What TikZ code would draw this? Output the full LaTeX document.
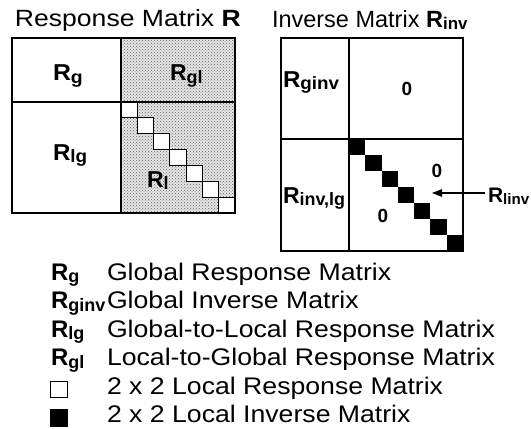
\documentclass[tikz,border=0pt]{standalone}
\usepackage{fontspec}
\setmainfont{Liberation Sans}
\usepackage{graphicx}
\usetikzlibrary{arrows.meta,patterns}
\newcommand\Rx[2][0.78]{\textbf{R}\raisebox{-0.12em}{\scalebox{#1}{\textbf{#2}}}}
\newcommand\SX[2]{\scalebox{#1}[1]{#2}}
\begin{document}
\begin{tikzpicture}[x=1pt,y=-1pt,
  lbl/.style={anchor=base west, inner sep=0pt, outer sep=0pt},
  big/.style={font=\fontsize{23}{27}\selectfont},
  leg/.style={font=\fontsize{24}{28}\selectfont},
  ttl/.style={font=\fontsize{23.5}{28}\selectfont},
  zero/.style={anchor=base, inner sep=0pt, font=\fontsize{19}{22}\selectfont\bfseries},
  frame/.style={line width=1.4pt},
  cell/.style={line width=1pt},
  shade/.style={fill=black!10},
  dots/.style={pattern=crosshatch dots, pattern color=black!60}]
\useasboundingbox (0,0) rectangle (531,429);
% ---- titles
\node[lbl,ttl] (t1) at (15,26.5) {\SX{1.13}{Response Matrix \textbf{R}}};
\node[lbl,ttl] (t2) at (272,27) {Inverse Matrix \Rx[0.72]{inv}};
% ---- left matrix
\fill[shade] (121,38) rectangle (235,213);
\fill[dots] (121,38) rectangle (235,213);
\foreach \i in {0,...,6}
  \draw[cell,fill=white] ({121+\i*16.29},{102+\i*15.86}) rectangle ++(16.29,15.86);
\draw[frame] (12,38) rectangle (235,213);
\draw[frame] (12,102) -- (235,102);
\draw[frame] (121,38) -- (121,213);
\node[lbl,big] (Rg) at (53,80.5) {\SX{1.08}{\Rx{g}}};
\node[lbl,big] (Rgl) at (170,80.5) {\Rx{gl}};
\node[lbl,big] (Rlg) at (53,160) {\SX{1.05}{\Rx{lg}}};
\node[lbl,big] (Rl) at (147,187) {\Rx{l}};
% ---- right matrix
\foreach \i in {0,...,6}
  \fill ({349+\i*16.29},{139+\i*16}) rectangle ++(16.29,16);
\draw[frame] (281,38) rectangle (463,251);
\draw[frame] (281,139) -- (463,139);
\draw[frame] (349,38) -- (349,251);
\node[lbl,big] (Rginv) at (283,87) {\SX{1.05}{\Rx{ginv}}};
\node[lbl,big] (Rinvlg) at (283,203) {\Rx{inv,lg}};
\node[zero] (z1) at (407,95) {0};
\node[zero] (z2) at (437,177) {0};
\node[zero] (z3) at (383,222) {0};
\node[lbl,font=\fontsize{21}{25}\selectfont] (Rlinv) at (488,202) {\Rx[0.72]{linv}};
\coordinate (arrS) at (485,193);
\coordinate (arrT) at (432,193);
\draw[line width=1.1pt,-{Triangle[length=10pt,width=7.5pt]}] (arrS) -- (arrT);
% ---- legend
\node[lbl,leg] (s1) at (51,280) {\Rx[0.75]{g}};
\node[lbl,leg] (s2) at (51,308.5) {\Rx[0.75]{ginv}};
\node[lbl,leg] (s3) at (51,337) {\Rx[0.75]{lg}};
\node[lbl,leg] (s4) at (51,365.5) {\Rx[0.75]{gl}};
\draw[cell] (50,381) rectangle (67,397);
\fill (50,409) rectangle (68,427);
\node[lbl,leg] (l1) at (107,280) {\SX{1.11}{Global Response Matrix}};
\node[lbl,leg] (l2) at (107,308.5) {\SX{1.11}{Global Inverse Matrix}};
\node[lbl,leg] (l3) at (107,337) {\SX{1.11}{Global-to-Local Response Matrix}};
\node[lbl,leg] (l4) at (107,365.5) {\SX{1.11}{Local-to-Global Response Matrix}};
\node[lbl,leg] (l5) at (107,394) {\SX{1.11}{2 x 2 Local Response Matrix}};
\node[lbl,leg] (l6) at (107,422.5) {\SX{1.11}{2 x 2 Local Inverse Matrix}};
\end{tikzpicture}
\end{document}
